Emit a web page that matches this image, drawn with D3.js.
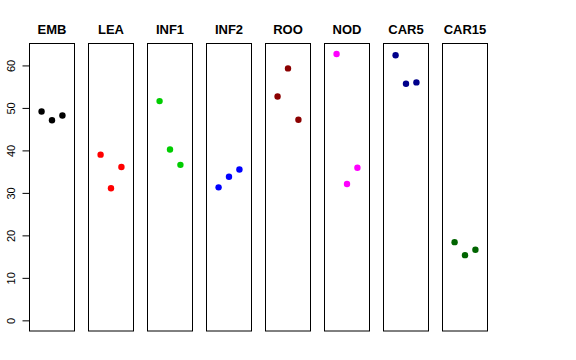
<!DOCTYPE html>
<html><head><meta charset="utf-8">
<script src="https://cdn.jsdelivr.net/npm/d3@7"></script>
<style>body{margin:0;background:#fff}svg{display:block}</style>
</head><body><svg id="c" width="576" height="360"></svg>
<script>
const categories = ["EMB","LEA","INF1","INF2","ROO","NOD","CAR5","CAR15"];
const colors = ["#000000","#FF0000","#00CD00","#0000FF","#8B0000","#FF00FF","#00008B","#006400"];
const seriesValues = [
  [49.15, 47.1, 48.2],
  [39.0, 31.1, 36.1],
  [51.6, 40.2, 36.6],
  [31.3, 33.8, 35.5],
  [52.7, 59.3, 47.2],
  [62.7, 32.1, 35.9],
  [62.4, 55.7, 56.0],
  [18.4, 15.35, 16.6]
];
const yTicks = [0,10,20,30,40,50,60];

const svg = d3.select("#c");
const ymax = d3.max(seriesValues.flat());
const pad = 0.04*ymax;
const y = d3.scaleLinear().domain([-pad, ymax+pad]).range([331, 43.3]);
const panelX = d3.scaleBand().domain(categories).range([29, 487]).paddingInner(14/59).paddingOuter(0);
const bw = panelX.bandwidth();
const x = d3.scaleLinear().domain([-0.16, 4.16]).range([0, bw]);

categories.forEach((cat,i)=>{
  const g = svg.append("g").attr("transform",`translate(${Math.round(panelX(cat))},0)`);
  g.append("rect").attr("x",0.5).attr("y",43.5).attr("width",Math.round(bw)).attr("height",287.5)
    .attr("fill","none").attr("stroke","#000").attr("stroke-width",1);
  g.append("text").attr("x",bw/2+0.5).attr("y",34).attr("text-anchor","middle")
    .attr("font-family","Liberation Sans, Arial, sans-serif").attr("font-weight","bold").attr("font-size",13)
    .text(cat);
  g.selectAll("circle").data(seriesValues[i]).enter().append("circle")
    .attr("cx",(d,j)=>x(j+1)+0.5).attr("cy",d=>y(d)).attr("r",3.2).attr("fill",colors[i]);
});

const ax = svg.append("g").attr("transform","translate(29.5,0)")
  .call(d3.axisLeft(y).tickValues(yTicks).tickSize(7).tickPadding(5).tickFormat(d3.format("d")));
ax.select(".domain").remove();
ax.selectAll("line").attr("stroke","#000");
ax.selectAll("text").attr("font-family","Liberation Sans, Arial, sans-serif").attr("font-size",11)
  .attr("fill","#000").attr("text-anchor","middle").attr("x",0).attr("dy",0)
  .attr("transform","translate(-19,0) rotate(-90)").attr("dominant-baseline","central");
</script></body></html>
